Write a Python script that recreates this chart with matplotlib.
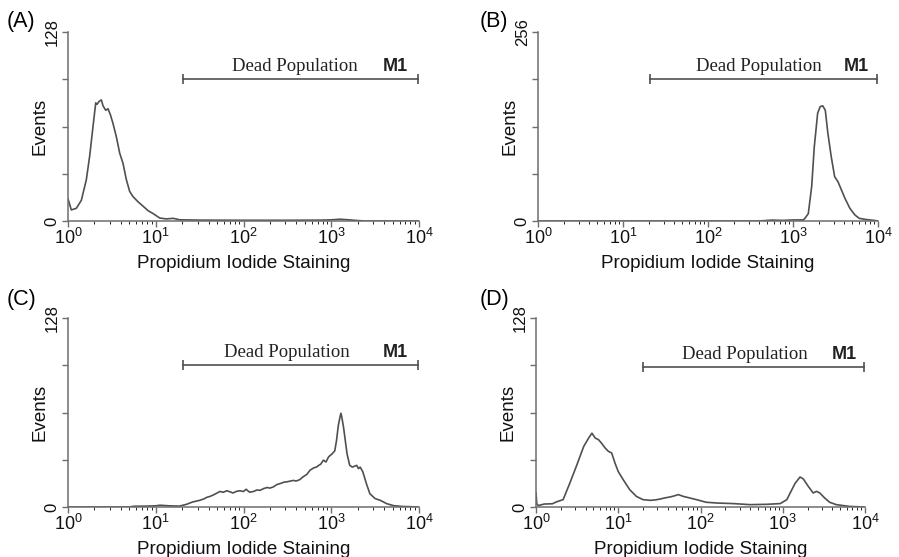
import numpy as np
import matplotlib
matplotlib.use("Agg")
import matplotlib.pyplot as plt
from matplotlib.ticker import FixedLocator, LogLocator, NullFormatter

plt.rcParams['font.family'] = ['Liberation Sans', 'DejaVu Sans']
plt.rcParams['mathtext.fontset'] = 'custom'
plt.rcParams['mathtext.rm'] = 'Liberation Sans'

# histogram traces: x as log10(PI intensity), y as events
a_log = [0.0, 0.038, 0.095, 0.152, 0.209, 0.247, 0.285, 0.316, 0.331, 0.354, 0.38, 0.399,
         0.43, 0.456, 0.483, 0.513, 0.551, 0.589, 0.627, 0.665, 0.703, 0.741, 0.798, 0.856,
         0.913, 0.97, 1.046, 1.122, 1.198, 1.274, 1.5, 2.0, 2.5, 2.9, 3.0, 3.1, 3.2, 3.3, 3.4, 4.0]
a_cnt = [15, 7.5, 8.6, 14, 28, 44, 64, 80, 79, 81, 82, 78,
         75, 76, 72, 66, 57, 46, 39, 28, 20, 16.5, 13, 10,
         7, 5, 2, 1.4, 1.8, 0.8, 0.6, 0.5, 0.5, 0.6, 0.8, 1.2, 0.8, 0.3, 0, 0]

b_log = [0.0, 2.6, 2.75, 2.88, 3.0, 3.12, 3.14, 3.18, 3.22, 3.25, 3.29, 3.32, 3.35, 3.38,
         3.41, 3.45, 3.49, 3.53, 3.57, 3.61, 3.67, 3.73, 3.78, 3.86, 3.94, 4.0]
b_cnt = [0, 0, 1.2, 0.8, 1.4, 1.5, 3.6, 10, 47, 100, 146, 155, 156, 150,
         119, 87, 60, 53, 42, 31, 17, 8, 3.6, 2, 1, 0]

c_log = [0.0, 0.7, 0.75, 0.9, 1.0, 1.05, 1.15, 1.27, 1.35, 1.42, 1.5, 1.55, 1.58, 1.62,
         1.65, 1.7, 1.73, 1.77, 1.81, 1.85, 1.88, 1.92, 1.96, 2.0, 2.03, 2.07, 2.12, 2.15,
         2.19, 2.23, 2.27, 2.3, 2.34, 2.38, 2.42, 2.46, 2.49, 2.53, 2.57, 2.6, 2.64, 2.68,
         2.72, 2.76, 2.8, 2.83, 2.86, 2.88, 2.91, 2.94, 2.97, 3.01, 3.04, 3.06, 3.08, 3.1,
         3.11, 3.12, 3.14, 3.16, 3.18, 3.21, 3.24, 3.26, 3.29, 3.31, 3.33, 3.36, 3.4, 3.44,
         3.5, 3.56, 3.63, 3.71, 3.8, 4.0]
c_cnt = [0, 0, 0.5, 0.6, 0.8, 1.2, 0.8, 0.6, 1.8, 3.4, 4.5, 5.5, 6.5, 7.2,
         8, 9.5, 10.5, 10, 11, 10.2, 9.5, 10.6, 11, 10.5, 12, 10, 10.6, 11.5,
         11.3, 12.5, 13.2, 12.8, 13.6, 15.2, 15.9, 16.8, 17, 17.5, 18, 17.6, 18.5, 20.5,
         22, 25, 26.5, 27, 28.3, 29, 31.7, 30.5, 34, 36, 38, 45, 55, 61,
         63.5, 61, 54, 45, 36, 28.3, 27, 27.5, 28.2, 26, 27, 23.8, 15.9, 9,
         5.7, 4.5, 2.3, 0.9, 0.4, 0]

d_log = [0.0, 0.01, 0.03, 0.1, 0.2, 0.25, 0.33, 0.41, 0.49, 0.58, 0.64, 0.68, 0.72, 0.76,
         0.8, 0.84, 0.88, 0.92, 0.96, 1.0, 1.06, 1.14, 1.22, 1.3, 1.39, 1.45, 1.51, 1.57,
         1.63, 1.68, 1.73, 1.79, 1.87, 1.95, 2.07, 2.2, 2.4, 2.6, 2.8, 2.97, 3.05, 3.09,
         3.15, 3.21, 3.25, 3.31, 3.37, 3.41, 3.45, 3.51, 3.57, 3.65, 3.81, 4.0]
d_cnt = [9.5, 2, 1, 2, 2.2, 3.5, 5, 16, 27.5, 41, 46.7, 50, 46.7, 45.6,
         43, 40, 37.7, 36.6, 29.8, 24, 18.5, 11.7, 7.2, 5, 4.5, 4.8, 5.4, 6.2,
         6.8, 7.5, 8.4, 7.2, 6.1, 5, 3.2, 2.7, 2.3, 1.6, 1.8, 2.3, 5, 9.5,
         16, 20.3, 19, 14, 9.5, 10.6, 9.5, 6.1, 3.2, 1.6, 0.4, 0]

panels = ['(A)', '(B)', '(C)', '(D)']
y_max = [128, 256, 128, 128]
gate_lo = [1.31, 1.32, 1.31, 1.3]      # log10 of gate start
gate_hi = [3.99, 3.99, 3.99, 3.99]
gate_y = [96, 192, 96, 95]
text_x = [2.58, 2.6, 2.5, 2.54]
m1_x = [3.73, 3.75, 3.73, 3.75]
traces = [(a_log, a_cnt), (b_log, b_cnt), (c_log, c_cnt), (d_log, d_cnt)]

W, H = 899, 557
# axes boxes in pixels: left, top, right, bottom
boxes = [(68, 32, 419, 221), (538, 32, 878, 221), (68, 318, 419, 507), (536, 318, 865, 507)]
letter_pos = [(7, 21), (480, 21), (7, 300), (480, 300)]

line_col = '#505050'
axis_col = '#6e6e6e'

fig = plt.figure(figsize=(W / 100, H / 100), dpi=100, facecolor='white')

for i in range(4):
    l, t, r, b = boxes[i]
    ax = fig.add_axes([l / W, 1 - b / H, (r - l) / W, (b - t) / H])
    xl, yc = traces[i]
    ax.plot(10 ** np.array(xl), yc, color=line_col, lw=1.2)
    ax.set_xscale('log')
    ax.set_xlim(1, 1e4)
    ax.set_ylim(0, y_max[i])
    for s in ['top', 'right']:
        ax.spines[s].set_visible(False)
    for s in ['left', 'bottom']:
        ax.spines[s].set_color(axis_col)
        ax.spines[s].set_linewidth(1.1)
    ax.yaxis.set_major_locator(FixedLocator(np.linspace(0, y_max[i], 5)))
    ax.set_yticklabels(['0', '', '', '', str(y_max[i])], rotation=90, va='center', fontsize=12)
    ax.xaxis.set_major_locator(LogLocator(base=10, numticks=10))
    ax.xaxis.set_minor_locator(LogLocator(base=10, subs=np.arange(2, 10), numticks=10))
    ax.xaxis.set_minor_formatter(NullFormatter())
    ax.tick_params(axis='both', colors=axis_col, labelcolor='#111111', width=1)
    ax.tick_params(axis='y', length=4, pad=2)
    ax.tick_params(axis='x', which='major', length=4, labelsize=13, pad=1)
    ax.tick_params(axis='x', which='minor', length=2)
    ax.set_xlabel('Propidium Iodide Staining', fontsize=13.5, labelpad=5, color='#111111')
    ax.set_ylabel('Events', fontsize=13.5, labelpad=-3, color='#111111')
    ax.set_facecolor('none')

    # gate marker
    g0, g1 = 10 ** gate_lo[i], 10 ** gate_hi[i]
    ax.plot([g0, g1], [gate_y[i], gate_y[i]], color=line_col, lw=1.2, clip_on=False)
    ax.plot([g0, g1], [gate_y[i], gate_y[i]], ls='none', marker='|', ms=7, mew=1.2,
            color=line_col, clip_on=False)
    ax.text(10 ** text_x[i], gate_y[i] + y_max[i] * 0.022, 'Dead Population',
            family=['Liberation Serif', 'DejaVu Serif'], fontsize=13.5, ha='center',
            va='bottom', color='#222222')
    ax.text(10 ** m1_x[i], gate_y[i] + y_max[i] * 0.022, 'M1', fontsize=13,
            fontweight='bold', ha='center', va='bottom', color='#222222')

    fig.text(letter_pos[i][0] / W, 1 - letter_pos[i][1] / H, panels[i], fontsize=15.5,
             ha='left', va='center')

fig.savefig('out.png', dpi=100, facecolor='white')
